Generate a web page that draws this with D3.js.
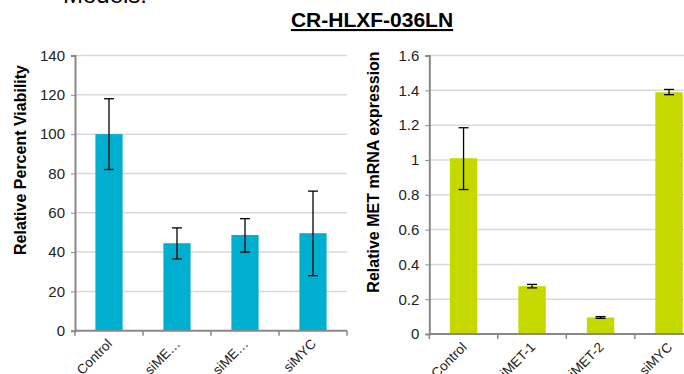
<!DOCTYPE html>
<html><head><meta charset="utf-8">
<script src="https://cdn.jsdelivr.net/npm/d3@7"></script>
<style>body{margin:0;background:#fff;} text{font-family:Arial,"Liberation Sans",sans-serif;}</style>
</head><body>
<svg id="c" width="684" height="374"></svg>
<script>
const leftCats = ["Control", "siME…", "siME…", "siMYC"];
const leftVals = [100, 44.5, 48.7, 49.6];
const leftErrLow = [82, 36.5, 40, 28];
const leftErrHigh = [118, 52.3, 57, 71];
const leftTicks = [0, 20, 40, 60, 80, 100, 120, 140];

const rightCats = ["Control", "siMET-1", "siMET-2", "siMYC"];
const rightVals = [1.01, 0.275, 0.095, 1.389];
const rightErrLow = [0.83, 0.265, 0.09, 1.375];
const rightErrHigh = [1.185, 0.285, 0.1, 1.405];
const rightTicks = [0, 0.2, 0.4, 0.6, 0.8, 1, 1.2, 1.4, 1.6];

const svg = d3.select("#c");

svg.append("text").attr("x", 63).attr("y", 3).attr("font-size", 24).attr("fill", "#000").text("Models:");

svg.append("text").attr("x", 372).attr("y", 27).attr("text-anchor", "middle")
  .attr("font-size", 21).attr("font-weight", "bold").attr("text-decoration", "underline").text("CR-HLXF-036LN");

function panel(cfg) {
  const g = svg.append("g");
  const x = d3.scaleBand().domain(d3.range(cfg.cats.length)).range([cfg.x0, cfg.x1]).paddingInner(0.6).paddingOuter(0.3);
  const y = d3.scaleLinear().domain([0, cfg.max]).range([cfg.y0, cfg.y1]);
  g.selectAll(".grid").data(cfg.ticks.filter(t => t > 0)).join("line")
    .attr("x1", cfg.x0).attr("x2", cfg.x1).attr("y1", d => y(d)).attr("y2", d => y(d))
    .attr("stroke", "#d9d9d9").attr("stroke-width", 1.5);
  g.selectAll(".bar").data(cfg.vals).join("rect")
    .attr("x", (d, i) => x(i)).attr("width", x.bandwidth())
    .attr("y", d => y(d)).attr("height", d => y(0) - y(d)).attr("fill", cfg.color);
  cfg.vals.forEach((v, i) => {
    const cx = x(i) + x.bandwidth() / 2;
    const eg = g.append("g").attr("stroke", "#000").attr("stroke-width", 1.3);
    eg.append("line").attr("x1", cx).attr("x2", cx).attr("y1", y(cfg.lo[i])).attr("y2", y(cfg.hi[i]));
    eg.append("line").attr("x1", cx - 5).attr("x2", cx + 5).attr("y1", y(cfg.lo[i])).attr("y2", y(cfg.lo[i]));
    eg.append("line").attr("x1", cx - 5).attr("x2", cx + 5).attr("y1", y(cfg.hi[i])).attr("y2", y(cfg.hi[i]));
  });
  const ya = g.append("g").attr("transform", `translate(${cfg.x0},0)`)
    .call(d3.axisLeft(y).tickValues(cfg.ticks).tickSize(4).tickPadding(6).tickFormat(d => String(d)));
  ya.select(".domain").attr("stroke", "#888").attr("stroke-width", 2);
  ya.selectAll(".tick line").attr("stroke", "#888").attr("stroke-width", 1);
  ya.selectAll("text").attr("font-size", 15).attr("fill", "#222").attr("font-family", "Arial, 'Liberation Sans', sans-serif");
  const xa = g.append("g").attr("transform", `translate(0,${cfg.y0})`);
  xa.append("line").attr("x1", cfg.x0).attr("x2", cfg.x1).attr("y1", 0).attr("y2", 0).attr("stroke", "#888").attr("stroke-width", 2);
  const bounds = d3.range(cfg.cats.length + 1).map(i => cfg.x0 + i * x.step());
  xa.selectAll(".xt").data(bounds).join("line").attr("x1", d => d).attr("x2", d => d).attr("y1", 0).attr("y2", 5).attr("stroke", "#888").attr("stroke-width", 1.5);
  xa.selectAll(".xl").data(cfg.cats).join("text")
    .attr("transform", (d, i) => `translate(${x(i) + x.bandwidth() / 2 + 4},${14}) rotate(-45)`)
    .attr("text-anchor", "end").attr("font-size", 13.5).attr("fill", "#222").text(d => d);
  g.append("text").attr("transform", `translate(${cfg.lx},${cfg.ly}) rotate(-90)`)
    .attr("text-anchor", "middle").attr("font-size", 16).attr("font-weight", "bold").attr("fill", "#000").text(cfg.label);
}

panel({cats: leftCats, vals: leftVals, lo: leftErrLow, hi: leftErrHigh, ticks: leftTicks, max: 140,
  x0: 75, x1: 347, y0: 330.7, y1: 55.5, color: "#00AFD0", label: "Relative Percent Viability", lx: 26, ly: 160});
panel({cats: rightCats, vals: rightVals, lo: rightErrLow, hi: rightErrHigh, ticks: rightTicks, max: 1.6,
  x0: 429.3, x1: 703.3, y0: 334, y1: 55.5, color: "#C5D800", label: "Relative MET mRNA expression", lx: 379, ly: 172});
</script>
</body></html>
